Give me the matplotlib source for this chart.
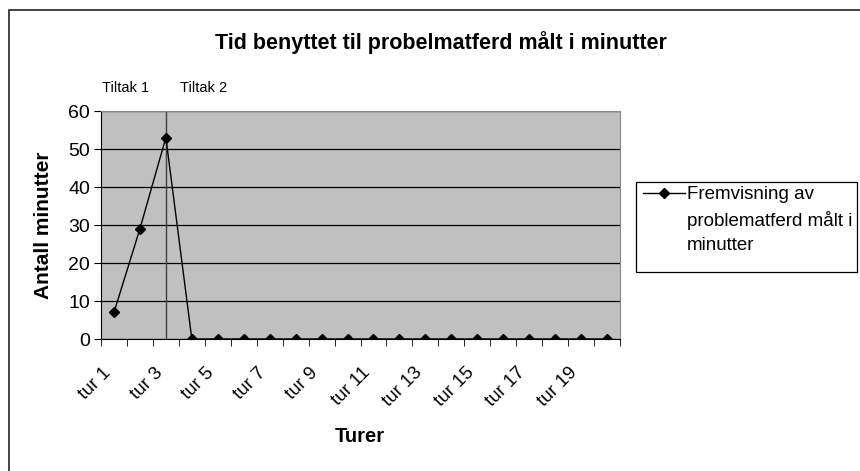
import matplotlib.pyplot as plt
from matplotlib.lines import Line2D
from matplotlib.patches import Rectangle
import matplotlib.transforms as mtransforms

# data
turer = ["tur %d" % i for i in range(1, 21)]
minutter = [7, 29, 53] + [0] * 17
tiltak_labels = ["Tiltak 1", "Tiltak 2"]
tiltak_x = [0.55, 3.55]
skille = 3

plt.rcParams["font.family"] = ["Liberation Sans", "DejaVu Sans"]

fig = plt.figure(figsize=(8.6, 4.71), dpi=100)
fig.patches.append(Rectangle((9 / 860, -0.1), 1.1, 1 - 10 / 471 + 0.1,
                             transform=fig.transFigure, fill=False,
                             edgecolor="#222222", linewidth=1.2))

ax = fig.add_axes([101 / 860, 1 - 339 / 471, 519 / 860, 228 / 471])
ax.set_facecolor("#c0c0c0")

x = list(range(1, len(turer) + 1))
ax.set_xlim(0.5, len(turer) + 0.5)
ax.set_ylim(0, 60)
ax.set_yticks(range(0, 61, 10))
ax.grid(axis="y", color="black", linewidth=0.9)
ax.set_axisbelow(True)

ax.axvline(skille, color="#404040", linewidth=1, zorder=2)
ax.plot(x, minutter, color="black", linewidth=1, marker="D", markersize=5.5, zorder=3)

# category ticks
ax.set_xticks(x[::2])
ax.set_xticklabels(turer[::2], rotation=45, ha="right", va="top")
ax.set_xticks([i + 0.5 for i in range(0, len(turer) + 1)], minor=True)
ax.tick_params(axis="x", which="major", length=0, pad=18, labelsize=13.5)
ax.tick_params(axis="x", which="minor", length=5, direction="out", color="black")
ax.tick_params(axis="y", length=5, labelsize=14, pad=3)

for s in ["top", "right"]:
    ax.spines[s].set_color("#888888")
for s in ["left", "bottom"]:
    ax.spines[s].set_color("black")

trans = mtransforms.blended_transform_factory(ax.transData, ax.transAxes)
for lab, tx in zip(tiltak_labels, tiltak_x):
    ax.text(tx, 1.07, lab, transform=trans, ha="left", va="bottom",
            fontsize=10.5, stretch="condensed")

fig.text(44 / 860, 1 - 225 / 471, "Antall minutter", rotation=90,
         ha="center", va="center", fontsize=15, fontweight="bold")
fig.text(360 / 860, 1 - 436 / 471, "Turer",
         ha="center", va="center", fontsize=14.5, fontweight="bold")

fig.text(441 / 860, 1 - 43 / 471, "Tid benyttet til probelmatferd målt i minutter",
         ha="center", va="center", fontsize=15.5, fontweight="bold")

# legend box
fig.patches.append(Rectangle((636 / 860, 1 - 272 / 471), 221 / 860, 90 / 471,
                             transform=fig.transFigure, fill=False,
                             edgecolor="black", linewidth=0.9))
fig.lines.append(Line2D([643 / 860, 685 / 860], [1 - 193 / 471] * 2,
                        transform=fig.transFigure, color="black", linewidth=1))
fig.lines.append(Line2D([664 / 860], [1 - 193 / 471], transform=fig.transFigure,
                        color="black", marker="D", markersize=5))
fig.text(687 / 860, 1 - 186 / 471, "Fremvisning av\nproblematferd målt i\nminutter",
         ha="left", va="top", fontsize=13.5, linespacing=1.55)

fig.savefig("out.png", dpi=100)
